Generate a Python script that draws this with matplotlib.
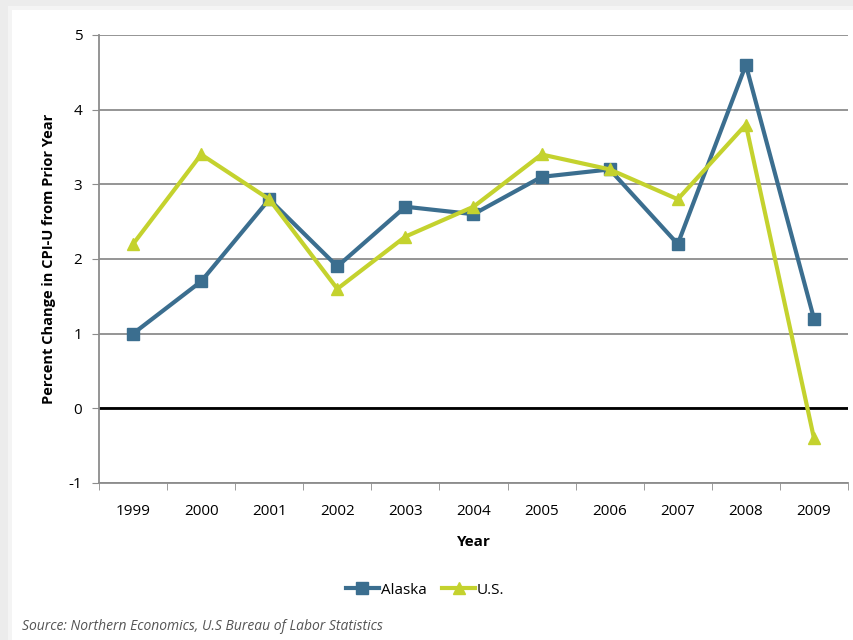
import numpy as np
import matplotlib.pyplot as plt
from matplotlib.patches import Rectangle

years = ['1999', '2000', '2001', '2002', '2003', '2004', '2005', '2006', '2007', '2008', '2009']
alaska = [1.0, 1.7, 2.8, 1.9, 2.7, 2.6, 3.1, 3.2, 2.2, 4.6, 1.2]
us = [2.2, 3.4, 2.8, 1.6, 2.3, 2.7, 3.4, 3.2, 2.8, 3.8, -0.4]

alaska_color = '#3b6e8f'
us_color = '#c4d22e'
grid_color = '#8c8c8c'

plt.rcParams['font.family'] = ['Open Sans', 'DejaVu Sans']
plt.rcParams['axes.unicode_minus'] = False

fig = plt.figure(figsize=(8.54, 6.4), dpi=100, facecolor='#ececec')
# white card with a soft shadow edge
fig.patches.append(Rectangle((8 / 854, 0), 1, 1 - 6 / 640, transform=fig.transFigure,
                             facecolor='#f4f4f4', edgecolor='none', zorder=-3))
fig.patches.append(Rectangle((12 / 854, 0), 1, 1 - 10 / 640, transform=fig.transFigure,
                             facecolor='white', edgecolor='none', zorder=-2))

ax = fig.add_axes([99 / 854, 1 - 483 / 640, 749 / 854, 448 / 640])
ax.set_facecolor('none')
ax.set_zorder(1)

x = np.arange(len(years))
ax.plot(x, alaska, color=alaska_color, lw=3, marker='s', ms=8, label='Alaska', zorder=3)
ax.plot(x, us, color=us_color, lw=3, marker='^', ms=8, label='U.S.', zorder=3)

ax.set_xlim(-0.5, len(years) - 0.5)
ax.set_ylim(-1, 5)
ax.set_yticks(range(-1, 6))
ax.set_xticks(x)
ax.set_xticklabels(years)
ax.set_xticks(np.arange(-0.5, len(years)), minor=True)
ax.tick_params(axis='x', which='major', length=0, pad=15, labelsize=11)
ax.tick_params(axis='x', which='minor', length=5, color=grid_color, direction='out')
ax.tick_params(axis='y', length=5, color=grid_color, pad=7, labelsize=11)

ax.grid(axis='y', color=grid_color, lw=1.3)
ax.set_axisbelow(True)
ax.axhline(0, color='black', lw=2, zorder=2)

for s in ['top', 'right']:
    ax.spines[s].set_visible(False)
for s in ['left', 'bottom']:
    ax.spines[s].set_color(grid_color)
    ax.spines[s].set_linewidth(1.3)

ax.set_ylabel('Percent Change in CPI-U from Prior Year', fontsize=10.5, fontweight='bold', labelpad=9)
ax.set_xlabel('Year', fontsize=11, fontweight='bold', labelpad=12)

fig.legend(loc='center', bbox_to_anchor=(425 / 854, 1 - 590 / 640), ncol=2, frameon=False,
           fontsize=11, handlelength=2.2, handletextpad=0.1, columnspacing=1.0, markerscale=1)

fig.text(22 / 854, 1 - 627 / 640, 'Source: Northern Economics, U.S Bureau of Labor Statistics',
         fontsize=10, style='italic', color='#555555', va='center')

fig.savefig('out.png', dpi=100, facecolor=fig.get_facecolor())
